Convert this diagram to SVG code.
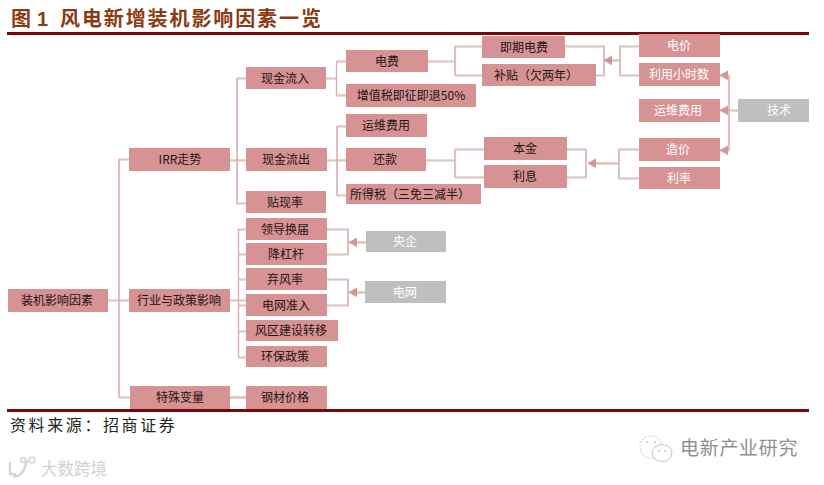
<svg xmlns="http://www.w3.org/2000/svg" width="824" height="485" viewBox="0 0 824 485">
<style>
text{font-family:"Noto Sans CJK SC","Liberation Sans",sans-serif}
.n rect{fill:#d79294}
.g rect{fill:#bfbfbf}
.n text,.g text{font-size:12px;text-anchor:middle;fill:#1f1414}
.w text,.g text{fill:#fff}
#connectors path{fill:none;stroke:#dfabab;stroke-width:1.2}
#connectors{filter:url(#sh)}
.rule{fill:#780808}
</style>
<defs>
<filter id="sh" x="-5%" y="-5%" width="110%" height="110%"><feDropShadow dx="0" dy="1" stdDeviation="0.6" flood-color="#888" flood-opacity="0.5"/></filter>
<marker id="a" markerUnits="userSpaceOnUse" markerWidth="9" markerHeight="10" refX="8" refY="5" orient="auto"><path d="M8,5L0,0.5V9.500Z" fill="#d79294"/></marker>
</defs>
<rect width="824" height="485" fill="#fff"/>
<text x="11" y="26" font-size="20" font-weight="700" fill="#8a3a12">图</text>
<text x="37" y="26" font-size="20" font-weight="700" fill="#8a3a12" style="font-family:'Liberation Sans',sans-serif">1</text>
<text x="60" y="26" font-size="20" font-weight="700" fill="#8a3a12" letter-spacing="1.9">风电新增装机影响因素一览</text>
<rect class="rule" x="7" y="32" width="802" height="3"/>
<rect class="rule" x="7" y="409" width="802" height="3"/>
<g id="connectors">
<path d="M108,300H119M119,159V397M119,159H129M119,300H129M119,397H130"/>
<path d="M230,160H246M237,78V203M237,78H246M237,203H246"/>
<path d="M326,78H336.500M336.500,61V95M336.500,61H346M336.500,95H346"/>
<path d="M327,160H346M337,126V195M337,126H346M337,195H346"/>
<path d="M428,61H455M455,46V75M455,46H482M455,75H482"/>
<path d="M426,160H455M455,149V177M455,149H484M455,177H484"/>
<path d="M565,46H604V75H596"/>
<path d="M620,60H604" marker-end="url(#a)"/>
<path d="M639,46H620V75H639"/>
<path d="M567,149H586V177H567"/>
<path d="M619,163H588" marker-end="url(#a)"/>
<path d="M639,149H619V178H639"/>
<path d="M738,110H729M729,75V150"/>
<path d="M729,75H720" marker-end="url(#a)"/>
<path d="M729,110H720" marker-end="url(#a)"/>
<path d="M729,150H720" marker-end="url(#a)"/>
<path d="M230,300H246M238.500,229V357M238.500,229H246M238.500,254H246M238.500,279H246M238.500,305H246M238.500,331H246M238.500,357H246"/>
<path d="M327,229H348V254H327"/>
<path d="M366,242H349" marker-end="url(#a)"/>
<path d="M327,279H348V305H327"/>
<path d="M365,292H349" marker-end="url(#a)"/>
<path d="M230,397H246"/>
</g>
<g id="root" class="n"><rect x="8" y="289" width="100" height="23"/><text x="57" y="304.500">装机影响因素</text></g>
<g id="irr" class="n"><rect x="129" y="148" width="101" height="23"/><text x="180" y="163.500">IRR走势</text></g>
<g id="industry" class="n"><rect x="129" y="289" width="101" height="23"/><text x="179" y="304.500">行业与政策影响</text></g>
<g id="special" class="n"><rect x="130" y="386" width="100" height="23"/><text x="180" y="401.500">特殊变量</text></g>
<g id="inflow" class="n"><rect x="246" y="67" width="80" height="22"/><text x="285" y="82.500">现金流入</text></g>
<g id="outflow" class="n"><rect x="246" y="148" width="81" height="23"/><text x="286" y="163.500">现金流出</text></g>
<g id="discount" class="n"><rect x="246" y="191" width="80" height="22"/><text x="285" y="206.500">贴现率</text></g>
<g id="leader" class="n"><rect x="246" y="218" width="81" height="22"/><text x="285" y="233.500">领导换届</text></g>
<g id="delever" class="n"><rect x="246" y="243" width="81" height="22"/><text x="286" y="258.500">降杠杆</text></g>
<g id="curtail" class="n"><rect x="246" y="268" width="81" height="22"/><text x="285" y="283.500">弃风率</text></g>
<g id="gridaccess" class="n"><rect x="246" y="294" width="81" height="22"/><text x="286" y="309.500">电网准入</text></g>
<g id="shift" class="n"><rect x="246" y="320" width="92" height="21"/><text x="291" y="335">风区建设转移</text></g>
<g id="env" class="n"><rect x="246" y="346" width="81" height="21"/><text x="285" y="361">环保政策</text></g>
<g id="steel" class="n"><rect x="246" y="386" width="81" height="23"/><text x="285" y="401.500">钢材价格</text></g>
<g id="tariff" class="n"><rect x="346" y="50" width="82" height="22"/><text x="387" y="65.500">电费</text></g>
<g id="vat" class="n"><rect x="346" y="84" width="130" height="23"/><text x="411" y="99.500">增值税即征即退50%</text></g>
<g id="om1" class="n"><rect x="346" y="114" width="81" height="23"/><text x="386" y="129.500">运维费用</text></g>
<g id="repay" class="n"><rect x="346" y="148" width="80" height="23"/><text x="385" y="163.500">还款</text></g>
<g id="tax" class="n"><rect x="346" y="184" width="135" height="20"/><text x="410" y="198.500">所得税（三免三减半）</text></g>
<g id="spot" class="n"><rect x="482" y="36" width="83" height="22"/><text x="524" y="51.500">即期电费</text></g>
<g id="subsidy" class="n"><rect x="482" y="64" width="114" height="22"/><text x="536" y="79.500">补贴（欠两年）</text></g>
<g id="principal" class="n"><rect x="484" y="137" width="83" height="23"/><text x="525" y="152.500">本金</text></g>
<g id="interest" class="n"><rect x="484" y="165" width="83" height="23"/><text x="525" y="180.500">利息</text></g>
<g id="price" class="n w"><rect x="639" y="34" width="81" height="23"/><text x="679" y="49.500">电价</text></g>
<g id="hours" class="n w"><rect x="639" y="63" width="81" height="23"/><text x="679" y="78.500">利用小时数</text></g>
<g id="om2" class="n w"><rect x="639" y="99" width="81" height="23"/><text x="678" y="114.500">运维费用</text></g>
<g id="cost" class="n w"><rect x="639" y="138" width="81" height="23"/><text x="678" y="153.500">造价</text></g>
<g id="rate" class="n w"><rect x="639" y="167" width="81" height="22"/><text x="679" y="182.500">利率</text></g>
<g id="tech" class="g"><rect x="738" y="99" width="71" height="23"/><text x="779" y="114.500">技术</text></g>
<g id="soe" class="g"><rect x="366" y="231" width="80" height="21"/><text x="405" y="246">央企</text></g>
<g id="grid" class="g"><rect x="365" y="281" width="81" height="22"/><text x="405" y="296.500">电网</text></g>
<text x="10" y="431" font-size="16" letter-spacing="2.600" fill="#1c261c">资料来源：招商证券</text>
<g fill="none" stroke="#b5b5b5" stroke-width="0.800">
<ellipse cx="651" cy="447" rx="11" ry="11" stroke-dasharray="2 1.500"/>
<ellipse cx="662" cy="453" rx="10" ry="8.500" fill="#fff"/>
</g>
<g fill="#999"><circle cx="647" cy="442" r="0.800"/><circle cx="655" cy="442" r="0.800"/><circle cx="659" cy="451" r="0.700"/><circle cx="665" cy="451" r="0.700"/></g>
<text x="680" y="455" font-size="19" letter-spacing="0.700" fill="#8f8f8f">电新产业研究</text>
<g fill="none" stroke="#d6d6d6" stroke-width="2.500"><path d="M10,462V474H16M27,460C24,474 18,477 13,476"/><circle cx="23" cy="460" r="2.500" stroke-width="1.500"/><circle cx="32" cy="460" r="3" stroke-width="1.500"/></g>
<text x="41" y="475" font-size="16.500" fill="#d0d0d0">大数跨境</text>
</svg>
